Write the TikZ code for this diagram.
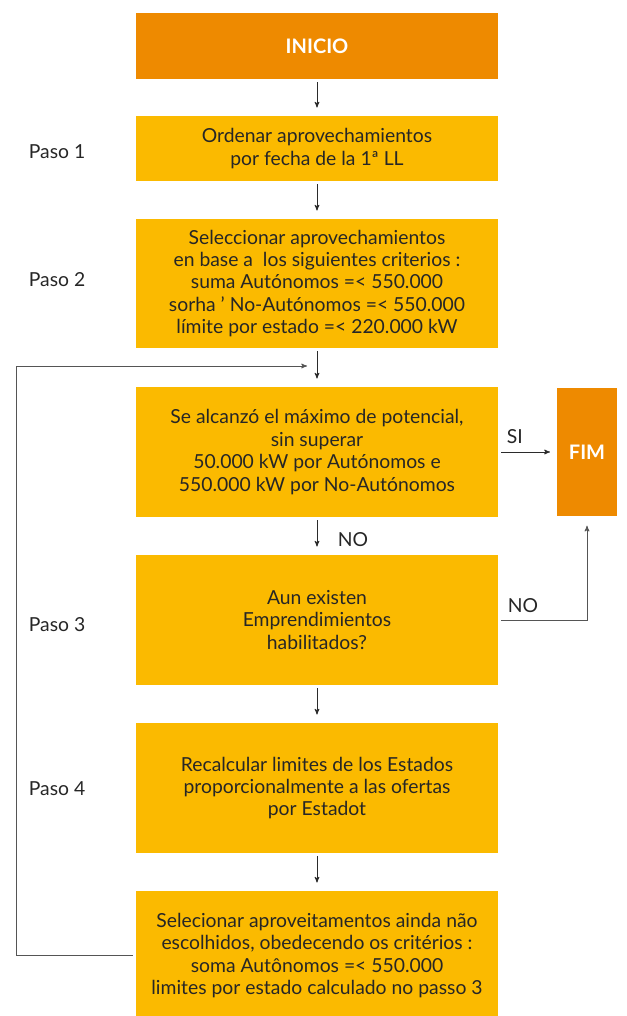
\documentclass[tikz,border=0pt]{standalone}
\usepackage{fontspec}
\setmainfont{Lato}
\usepackage{tikz}
\usetikzlibrary{arrows}

\definecolor{naranja}{HTML}{EE8A00}
\definecolor{amarillo}{HTML}{FBBA00}
\definecolor{linea}{HTML}{2B2B2B}
\definecolor{retorno}{HTML}{555555}

\begin{document}
\begin{tikzpicture}[x=0.75pt, y=-0.75pt, ->, >=stealth', semithick, draw=linea,
		every node/.style={text=black!85, font=\fontsize{14.5}{16.8}\selectfont},
		caja/.style={fill=amarillo, minimum width=271.5pt, inner sep=2pt, align=center},
		extremo/.style={fill=naranja, text=white, font=\fontsize{15}{17}\selectfont\bfseries},
		flecha/.style={shorten <=2.25pt, shorten >=6pt}]
		\useasboundingbox (0,0) rectangle (627,1016);

		\node[caja, extremo, minimum height=49.5pt]	(inicio) at (317, 46) {INICIO};
		\node[caja, minimum height=48.75pt]			(ordenar) at (317, 148.5) {Ordenar aprovechamientos\\ por fecha de la 1ª LL};
		\node[caja, minimum height=96.75pt]			(criterios) at (317, 283.5) {Seleccionar aprovechamientos\\ en base a\ \ los siguientes criterios :\\ suma Autónomos =< 550.000\\ sorha ’ No-Autónomos =< 550.000\\ límite por estado =< 220.000 kW};
		\node[caja, minimum height=97.5pt]			(maximo) at (317, 452) {Se alcanzó el máximo de potencial,\\ sin superar\\ 50.000 kW por Autónomos e\\ 550.000 kW por No-Autónomos};
		\node[caja, minimum height=97.5pt]			(existen) at (317, 620) {Aun existen\\ Emprendimientos\\ habilitados?};
		\node[caja, minimum height=97.5pt]			(recalcular) at (317, 788) {Recalcular limites de los Estados\\ proporcionalmente a las ofertas\\ por Estadot};
		\node[caja, minimum height=96.75pt]			(selecionar) at (317, 955.5) {Selecionar aproveitamentos ainda não\\ escolhidos, obedecendo os critérios :\\ soma Autônomos =< 550.000\\ limites por estado calculado no passo 3};
		\node[extremo, minimum width=45pt, minimum height=96pt] (fim) at (587, 452) {FIM};

		% pasos
		\node[anchor=west]	(paso1) at (24, 152) {Paso 1};
		\node[anchor=west]	(paso2) at (24, 280) {Paso 2};
		\node[anchor=west]	(paso3) at (24, 625) {Paso 3};
		\node[anchor=west]	(paso4) at (24, 789) {Paso 4};

		\coordinate (union) at (317, 366);
		\coordinate (vuelta) at (16, 366);

		\path	(inicio) edge[flecha] (ordenar)
				(ordenar) edge[flecha] (criterios)
				(criterios) edge[flecha] (maximo)
				(maximo) edge[flecha] (existen)
				(existen) edge[flecha] (recalcular)
				(recalcular) edge[flecha] (selecionar)
				(maximo.east) edge[shorten <=2.25pt, shorten >=5pt] (fim.west);

		\draw[retorno, shorten <=2.25pt, shorten >=7pt] (existen.east) -| (fim.south);
		\draw[retorno, shorten <=2.25pt, shorten >=7.5pt] (selecionar.west) -| (vuelta) -- (union);

		\node[anchor=west]	(si) at (502, 437) {SI};
		\node[anchor=west]	(no1) at (333, 540) {NO};
		\node[anchor=west]	(no2) at (503, 606) {NO};
	\end{tikzpicture}
\end{document}
